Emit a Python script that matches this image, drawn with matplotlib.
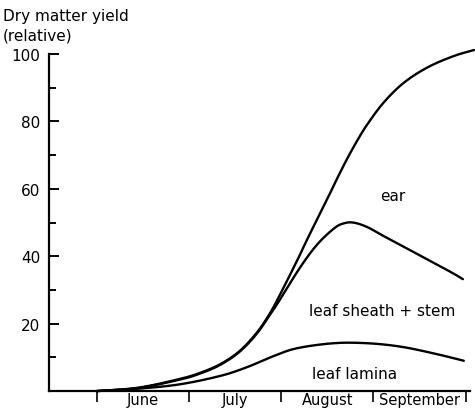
import numpy as np
import matplotlib.pyplot as plt
from matplotlib.ticker import MultipleLocator, FixedLocator, NullFormatter

# x in months from 1 June (0 = start of June, 4 = end of September)
total_x = [0.0, 0.45, 0.90, 1.12, 1.34, 1.55, 1.74, 1.88, 1.99, 2.17, 2.29, 2.42, 2.51, 2.61,
           2.72, 2.83, 2.93, 3.11, 3.33, 3.59, 3.87, 4.09]
total_y = [0.0, 1.0, 3.6, 5.4, 8.0, 11.9, 17.5, 23.2, 28.8, 38.6, 45.5, 52.6, 57.6, 63.3,
           69.2, 74.6, 79.0, 85.6, 91.5, 96.1, 99.4, 101.2]

stem_x = [0.0, 0.45, 0.90, 1.12, 1.34, 1.55, 1.74, 1.88, 1.96, 2.2, 2.39, 2.57, 2.67, 2.78,
          2.93, 3.11, 3.48, 3.84, 3.97]
stem_y = [0.0, 0.9, 3.4, 5.2, 7.8, 11.7, 17.2, 22.8, 26.0, 36.5, 43.5, 48.2, 49.7, 50.0,
          48.7, 46.0, 40.6, 35.3, 33.2]

lamina_x = [0.0, 0.45, 0.90, 1.34, 1.63, 1.91, 2.17, 2.57, 2.93, 3.29, 3.65, 3.98]
lamina_y = [0.0, 0.7, 2.0, 4.5, 7.1, 10.3, 12.7, 14.2, 14.2, 13.2, 11.2, 9.0]

months = ['June', 'July', 'August', 'September']


def smooth(x, y, n=20):
    # parametric Catmull-Rom through the read points
    p = np.column_stack([x, y])
    p = np.vstack([p[0], p, p[-1]])
    pts = []
    for i in range(1, len(p) - 2):
        p0, p1, p2, p3 = p[i - 1], p[i], p[i + 1], p[i + 2]
        for t in np.linspace(0, 1, n, endpoint=False):
            pts.append(0.5 * ((2 * p1) + (-p0 + p2) * t
                              + (2 * p0 - 5 * p1 + 4 * p2 - p3) * t ** 2
                              + (-p0 + 3 * p1 - 3 * p2 + p3) * t ** 3))
    pts.append(p[-2])
    pts = np.array(pts)
    return pts[:, 0], pts[:, 1]


fig = plt.figure(figsize=(4.75, 4.14), dpi=100)
ax = fig.add_axes([0.103, 0.053, 0.887, 0.814])

for xx, yy in [(total_x, total_y), (stem_x, stem_y), (lamina_x, lamina_y)]:
    sx, sy = smooth(xx, yy)
    ax.plot(sx, sy, color='black', lw=1.7, clip_on=False, solid_capstyle='round')

ax.set_xlim(-0.52, 4.05)
ax.set_ylim(0, 100)

ax.spines['top'].set_visible(False)
ax.spines['right'].set_visible(False)
ax.spines['left'].set_linewidth(1.6)
ax.spines['bottom'].set_linewidth(1.6)

ax.set_yticks([20, 40, 60, 80, 100])
ax.yaxis.set_minor_locator(MultipleLocator(10))
ax.tick_params(axis='y', which='major', direction='in', length=7, width=1.4, labelsize=11, pad=6)
ax.tick_params(axis='y', which='minor', direction='in', length=5, width=1.4)

ax.xaxis.set_major_locator(FixedLocator([0, 1, 2, 3, 4]))
ax.xaxis.set_major_formatter(NullFormatter())
ax.xaxis.set_minor_locator(FixedLocator([0.5, 1.5, 2.5, 3.5]))
ax.set_xticklabels(months, minor=True)
ax.tick_params(axis='x', which='major', direction='out', length=8, width=1.2)
ax.tick_params(axis='x', which='minor', length=0, labelsize=10.5, pad=1)

fig.text(0.006, 0.978, 'Dry matter yield\n(relative)', ha='left', va='top',
         fontsize=11, linespacing=1.35)

ax.text(3.21, 58, 'ear', ha='center', va='center', fontsize=11)
ax.text(3.1, 24, 'leaf sheath + stem', ha='center', va='center', fontsize=11)
ax.text(2.8, 5.3, 'leaf lamina', ha='center', va='center', fontsize=11)

fig.savefig('out.png', dpi=100)
